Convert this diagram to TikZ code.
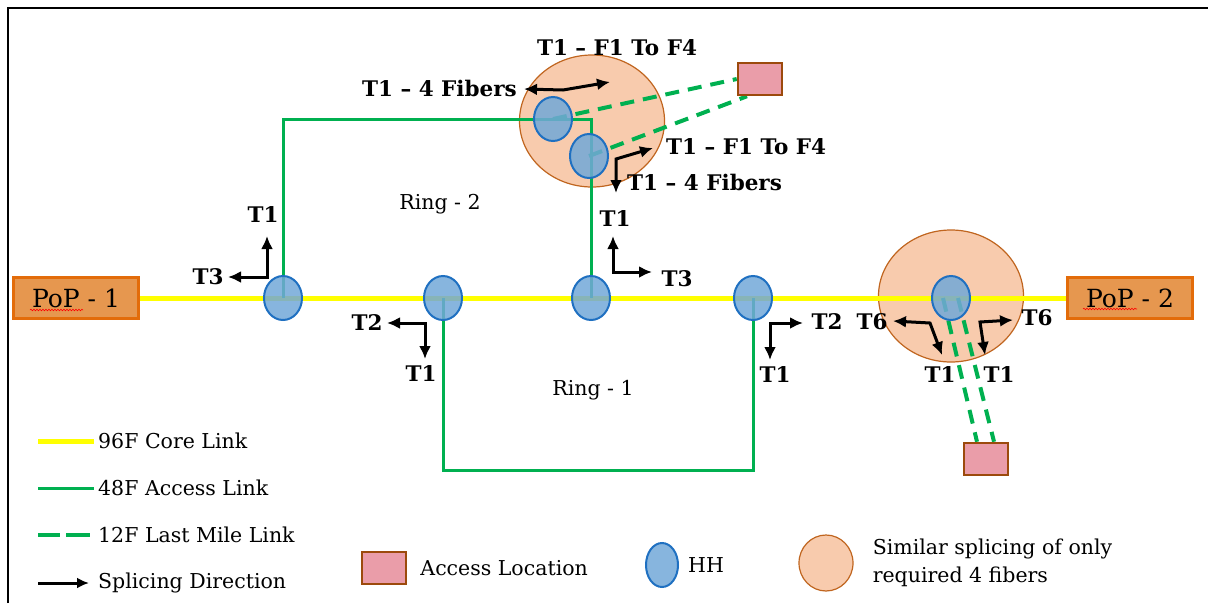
\documentclass[tikz,border=0pt]{standalone}
\usepackage{fontspec}
\setmainfont{DejaVu Serif}
\usetikzlibrary{arrows.meta,positioning,shapes.geometric,backgrounds,decorations.pathmorphing}

\definecolor{coreyellow}{HTML}{FFFF00}
\definecolor{accgreen}{HTML}{00B050}
\definecolor{hhfill}{HTML}{72A8D8}
\definecolor{hhline}{HTML}{1F70C1}
\definecolor{peach}{HTML}{F8CBAD}
\definecolor{peachline}{HTML}{C0651F}
\definecolor{pinkfill}{HTML}{EA9DA9}
\definecolor{pinkline}{HTML}{9C4A0C}
\definecolor{popfill}{HTML}{E6974F}
\definecolor{popline}{HTML}{E36C0A}

\begin{document}
\begin{tikzpicture}[x=1pt, y=-1pt, font=\fontsize{20.5}{28}\selectfont,
  hh/.style={ellipse, draw=hhline, line width=2pt, fill=hhfill, fill opacity=0.85,
              minimum width=38pt, minimum height=44pt, inner sep=0pt},
  splicing/.style={ellipse, draw=peachline, line width=1.2pt, fill=peach,
              minimum width=145pt, minimum height=132pt, inner sep=0pt},
  pop/.style={draw=popline, line width=3.5pt, fill=popfill, minimum width=125pt,
              minimum height=41pt, font=\fontsize{25}{28}\selectfont},
  access/.style={draw=pinkline, line width=2.5pt, fill=pinkfill,
              minimum width=44pt, minimum height=32pt, inner sep=0pt},
  core/.style={coreyellow, line width=5pt},
  ring/.style={accgreen, line width=3pt},
  mile/.style={accgreen, line width=4pt, dash pattern=on 14pt off 9pt},
  dir/.style={line width=3pt, {Latex[length=13pt,width=12pt]}-{Latex[length=13pt,width=12pt]}},
  lbl/.style={font=\bfseries\fontsize{21.5}{24}\selectfont, inner sep=1pt},
  legend/.style={anchor=west, inner sep=1pt}]
  \useasboundingbox (0,0) rectangle (1208,603);
  \draw[line width=2.5pt] (8,603) -- (8,8) -- (1208,8);

  \node[pop] (pop1) at (76,298)   {PoP - 1};
  \node[pop] (pop2) at (1130,298) {PoP - 2};
  \draw[red, line width=0.6pt, decorate, decoration={snake, amplitude=0.8pt, segment length=3pt}]
    ([xshift=-46pt,yshift=-12pt]pop1.center) -- ([xshift=7pt,yshift=-12pt]pop1.center);
  \draw[red, line width=0.6pt, decorate, decoration={snake, amplitude=0.8pt, segment length=3pt}]
    ([xshift=-47pt,yshift=-11pt]pop2.center) -- ([xshift=7pt,yshift=-11pt]pop2.center);

  \node[hh] (h1) at (283,298) {};
  \node[hh] (h2) at (443,298) {};
  \node[hh] (h3) at (591,298) {};
  \node[hh] (h4) at (753,298) {};
  \node[hh] (h5) at (951,298) {};
  \node[hh] (t1) at (553,119) {};
  \node[hh] (t2) at (589,156) {};

  \node[access] (acc1) at (760,79)  {};
  \node[access] (acc2) at (986,459) {};
  \coordinate (r1) at (443,470);

  \begin{pgfonlayer}{background}
    \node[splicing] (s1) at (592,121) {};
    \node[splicing] (s2) at (951,296) {};
    \draw[core] (pop1) -- (pop2);
    \draw[ring] (h1.center) |- (t1.center) -| (h3.center);
    \draw[ring] (h2.center) -- (r1) -| (h4.center);
    \draw[mile] (t1.center) -- (acc1.west);
    \draw[mile] (t2.center) -- ([xshift=-13pt]acc1.south);
    \draw[mile] ([xshift=-8pt]h5.center) -- ([xshift=-9pt]acc2.north);
    \draw[mile] ([xshift=7pt]h5.center) -- ([xshift=8pt]acc2.north);
  \end{pgfonlayer}

  \node at (440,204) {Ring - 2};
  \node at (593,390) {Ring - 1};

  \coordinate (a1) at (228,277);  \coordinate (a2) at (267,236);
  \coordinate (b1) at (387,323);  \coordinate (b2) at (425,359);
  \coordinate (c1) at (613,236);  \coordinate (c2) at (652,272);
  \coordinate (d1) at (803,323);  \coordinate (d2) at (770,360);
  \coordinate (e1) at (893,321);  \coordinate (e0) at (930,323);  \coordinate (e2) at (942,355);
  \coordinate (f1) at (1013,320); \coordinate (f0) at (980,322);  \coordinate (f2) at (985,355);
  \coordinate (g1) at (524,89);   \coordinate (g0) at (563,90);   \coordinate (g2) at (610,82);
  \coordinate (k1) at (616,193);  \coordinate (k0) at (616,159);  \coordinate (k2) at (653,148);

  \draw[dir] (a1) -| (a2);
  \draw[dir] (b1) -| (b2);
  \draw[dir] (c1) |- (c2);
  \draw[dir] (d1) -| (d2);
  \draw[dir] (e1) -- (e0) -- (e2);
  \draw[dir] (f1) -- (f0) -- (f2);
  \draw[dir] (g1) -- (g0) -- (g2);
  \draw[dir] (k1) -- (k0) -- (k2);

  \node[lbl] (la3) at (208,277) {T3};
  \node[lbl] (la1) at (263,215) {T1};
  \node[lbl] (lb2) at (367,323) {T2};
  \node[lbl] (lb1) at (421,374) {T1};
  \node[lbl] (lc1) at (615,219) {T1};
  \node[lbl] (lc3) at (677,279) {T3};
  \node[lbl] (ld2) at (827,322) {T2};
  \node[lbl] (ld1) at (775,375) {T1};
  \node[lbl] (le6) at (872,322) {T6};
  \node[lbl] (le1) at (940,375) {T1};
  \node[lbl] (lf6) at (1037,318) {T6};
  \node[lbl] (lf1) at (999,375) {T1};
  \node[lbl] (lg1) at (617,48) {T1 -- F1 To F4};
  \node[lbl, anchor=east] (lg4) at (518,88) {T1 -- 4 Fibers};
  \node[lbl, anchor=west] (lk1) at (665,147) {T1 -- F1 To F4};
  \node[lbl, anchor=west] (lk4) at (626,182) {T1 -- 4 Fibers};

  \node[legend] (lgcore) at (97,441) {96F Core Link};
  \node[legend] (lgacc)  at (97,488) {48F Access Link};
  \node[legend] (lgmile) at (97,535) {12F Last Mile Link};
  \node[legend] (lgdir)  at (97,583) {Splicing Direction};
  \draw[core] ([xshift=-59pt]lgcore.west) -- ([xshift=-3pt]lgcore.west);
  \draw[ring] ([xshift=-59pt]lgacc.west) -- ([xshift=-3pt]lgacc.west);
  \draw[accgreen, line width=4pt] ([xshift=-59pt]lgmile.west) -- ([xshift=-37pt]lgmile.west)
    ([xshift=-31pt]lgmile.west) -- ([xshift=-7pt]lgmile.west);
  \draw[line width=3pt, -{Latex[length=12pt,width=11pt]}] ([xshift=-59pt]lgdir.west) -- ([xshift=-8pt]lgdir.west);

  \node[access] (lgbox) at (384,568) {};
  \node[legend, right=12pt of lgbox] (lgboxt) {Access Location};
  \node[hh, minimum width=32pt] (lghh) at (662,565) {};
  \node[legend, right=8pt of lghh] (lghht) {HH};
  \node[splicing, minimum width=54pt, minimum height=56pt] (lgsp) at (826,563) {};
  \node[legend, align=left, right=18pt of lgsp] (lgspt) {Similar splicing of only\\required 4 fibers};
\end{tikzpicture}
\end{document}
